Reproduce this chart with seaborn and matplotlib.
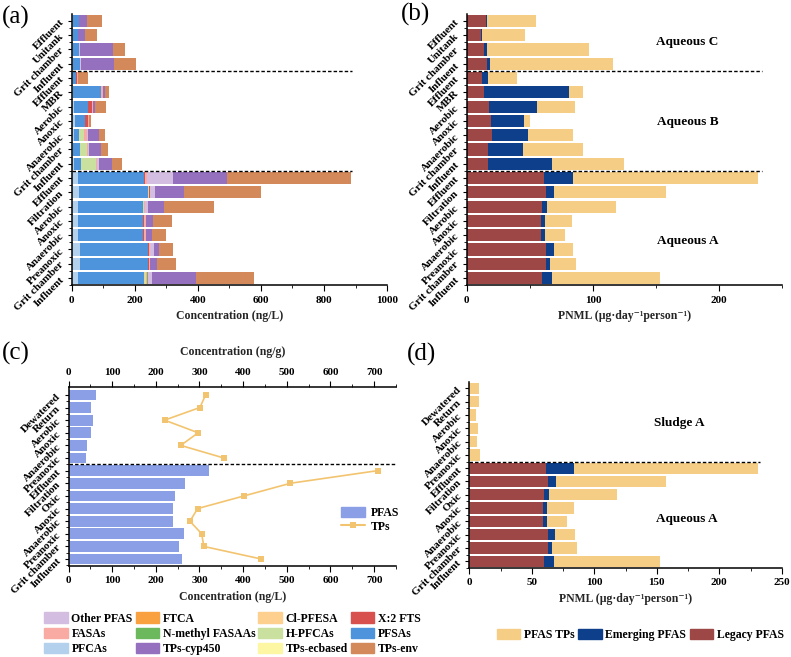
import numpy as np
import seaborn as sns
from matplotlib import pyplot as plt
from matplotlib.lines import Line2D
from matplotlib.patches import Patch
from matplotlib.ticker import MultipleLocator

# row labels, top to bottom
aq_c_rows = ['Effluent', 'Unitank', 'Grit chamber', 'Influent']
aq_b_rows = ['Effluent', 'MBR', 'Aerobic', 'Anoxic', 'Anaerobic', 'Grit chamber', 'Influent']
aq_a_rows = ['Effluent', 'Filtration', 'Aerobic', 'Anoxic', 'Anaerobic', 'Preanoxic', 'Grit chamber', 'Influent']
sludge_rows = ['Dewatered', 'Return', 'Aerobic', 'Anoxic', 'Anaerobic', 'Preanoxic']
aq_a_rows_cd = ['Effluent', 'Filtration', 'Oxic', 'Anoxic', 'Anaerobic', 'Preanoxic', 'Grit chamber', 'Influent']

# (a) concentration by class, ng/L (C: 4 rows, B: 7 rows, A: 8 rows)
pfcas = [4, 4, 4, 5, 4, 5, 8, 10, 8, 6, 8, 22, 24, 22, 22, 22, 27, 27, 22]
pfsas = [20, 15, 20, 21, 10, 90, 44, 33, 17, 21, 21, 208, 219, 205, 206, 206, 216, 215, 208]
h_pfcas = [0, 0, 0, 0, 0, 0, 0, 0, 15, 21, 49, 0, 4, 3, 0, 0, 0, 0, 4]
cl_pfesa = [0, 0, 0, 0, 0, 0, 0, 0, 0, 0, 0, 0, 0, 0, 0, 0, 0, 0, 3]
x2_fts = [0, 0, 0, 0, 3, 0, 13, 8, 0, 0, 0, 4, 3, 0, 3, 3, 4, 4, 0]
fasas = [0, 0, 0, 2, 5, 4, 2, 6, 8, 4, 4, 4, 0, 3, 4, 4, 3, 4, 3]
n_methyl_fasaas = [0, 0, 0, 0, 0, 0, 0, 0, 0, 0, 0, 0, 0, 0, 0, 0, 0, 0, 3]
ftca = [0] * 19
other_pfas = [0, 0, 2, 3, 0, 0, 0, 0, 5, 4, 4, 82, 15, 10, 0, 0, 12, 0, 13]
tps_cyp450 = [24, 24, 106, 103, 0, 7, 9, 0, 34, 36, 42, 172, 93, 50, 24, 19, 16, 20, 139]
tps_ecbased = [0] * 19
tps_env = [49, 39, 38, 70, 29, 12, 32, 6, 20, 25, 32, 392, 243, 157, 59, 44, 44, 60, 183]

# (b) PNML, ug/day/person
legacy_b = [15.4, 11.4, 13.8, 16.4, 11.9, 13.8, 17.7, 19.3, 20.1, 16.7, 16.7,
            61, 63, 59.6, 59, 59, 63, 62.8, 60]
emerging_b = [0.8, 1.1, 2.1, 2.1, 5.3, 67, 38.2, 26, 28.4, 28.3, 50.8,
              23, 6.4, 4, 3, 3, 5.9, 3.2, 7.8]
tps_b = [38.8, 33.5, 81.1, 97.5, 22.3, 11.2, 29.7, 5, 36, 47.5, 57,
         147, 88.2, 54.4, 21.4, 16, 15.6, 20.4, 85]

# (c) PFAS bars and TPs line (sludge ng/g, aqueous ng/L)
pfas_sludge = [62, 51, 55, 51, 43, 40]
tps_sludge = [314, 301, 220, 297, 257, 356]
pfas_aq = [321, 266, 244, 239, 239, 265, 253, 260]
tps_aq = [708, 508, 402, 296, 278, 305, 310, 442]

# (d) PNML: sludge A (TPs only) + aqueous A
legacy_d = [0, 0, 0, 0, 0, 0, 61, 63, 59.6, 59, 59, 63, 62.8, 60]
emerging_d = [0, 0, 0, 0, 0, 0, 23, 6.4, 4, 3, 3, 5.9, 3.2, 7.8]
tps_d = [8, 7.5, 5.3, 6.6, 6, 8.3, 147, 88.2, 54.4, 21.4, 16, 15.6, 20.4, 85]

class_names = ['PFCAs', 'PFSAs', 'H-PFCAs', 'Cl-PFESA', 'X:2 FTS', 'FASAs', 'N-methyl FASAAs',
               'FTCA', 'Other PFAS', 'TPs-cyp450', 'TPs-ecbased', 'TPs-env']
class_colors = ['#b3d1ec', '#4d94dd', '#c9e09e', '#fdd090', '#d9514e', '#f9aaa3', '#6cb85c',
                '#f9a040', '#d3bde0', '#9470bf', '#fdf7a4', '#d3895a']
legend_order = ['Other PFAS', 'FASAs', 'PFCAs', 'FTCA', 'N-methyl FASAAs', 'TPs-cyp450',
                'Cl-PFESA', 'H-PFCAs', 'TPs-ecbased', 'X:2 FTS', 'PFSAs', 'TPs-env']

C_LEGACY, C_EMERGING, C_TPS = '#9e4747', '#0d3f8a', '#f5cd85'
C_BAR, C_LINE = '#8a9fe6', '#f3c46f'


def stacked_bars(ax, segments, colours, width=0.85):
    pos = np.arange(len(segments[0]))
    ends = np.cumsum(np.array(segments, dtype=float), axis=0)
    # draw the longest cumulative bar first, shorter ones on top
    for end, colour in reversed(list(zip(ends, colours))):
        sns.barplot(x=end, y=pos, orient='y', native_scale=True, color=colour, saturation=1,
                    width=width, errorbar=None, linewidth=0, ax=ax)
    return pos


def style_rows(ax, labels, n):
    ax.set_yticks(np.arange(n))
    ax.set_yticklabels(labels, rotation=45, ha='right', va='center', rotation_mode='anchor', fontsize=8)
    ax.set_yticks(np.arange(n) + 0.5, minor=True)
    ax.set_ylim(n - 0.5, -0.5)
    ax.set_ylabel('')
    ax.tick_params(axis='y', which='minor', length=2)
    ax.tick_params(axis='x', labelsize=8)


sns.set_style('ticks')
plt.rcParams['font.family'] = ['Liberation Serif', 'DejaVu Serif']
plt.rcParams['font.weight'] = 'bold'
plt.rcParams['axes.labelweight'] = 'bold'
plt.rcParams['axes.edgecolor'] = 'black'
plt.rcParams['axes.linewidth'] = 1.1
plt.rcParams['text.color'] = 'black'
plt.rcParams['xtick.color'] = 'black'
plt.rcParams['ytick.color'] = 'black'
plt.rcParams['xtick.major.size'] = 4
plt.rcParams['ytick.major.size'] = 3
plt.rcParams['xtick.minor.size'] = 2.5

fig = plt.figure(figsize=(7.91, 6.57), dpi=100)
ax_a = fig.add_axes([0.0904, 0.566, 0.399, 0.413])
ax_b = fig.add_axes([0.590, 0.566, 0.399, 0.413])
ax_c = fig.add_axes([0.0866, 0.1385, 0.414, 0.272])
ax_d = fig.add_axes([0.5933, 0.1355, 0.395, 0.2835])

rows_abc = aq_c_rows + aq_b_rows + aq_a_rows
n_c, n_b = len(aq_c_rows), len(aq_b_rows)
pnml_label = 'PNML (µg·day⁻¹person⁻¹)'

# (a)
class_values = [pfcas, pfsas, h_pfcas, cl_pfesa, x2_fts, fasas, n_methyl_fasaas,
                ftca, other_pfas, tps_cyp450, tps_ecbased, tps_env]
stacked_bars(ax_a, class_values, class_colors)
style_rows(ax_a, rows_abc, len(rows_abc))
ax_a.set_xlim(0, 1000)
ax_a.xaxis.set_major_locator(MultipleLocator(200))
ax_a.xaxis.set_minor_locator(MultipleLocator(100))
ax_a.set_xlabel('Concentration (ng/L)', fontsize=8.5)
for y in [n_c - 0.5, n_c + n_b - 0.5]:
    ax_a.hlines(y, 0, 890, colors='black', linestyles=(0, (2.5, 1.5)), lw=1)
sns.despine(ax=ax_a)

# (b)
stacked_bars(ax_b, [legacy_b, emerging_b, tps_b], [C_LEGACY, C_EMERGING, C_TPS])
style_rows(ax_b, rows_abc, len(rows_abc))
ax_b.set_xlim(0, 250)
ax_b.xaxis.set_major_locator(MultipleLocator(100))
ax_b.xaxis.set_minor_locator(MultipleLocator(50))
ax_b.set_xlabel(pnml_label, fontsize=8.5)
for y in [n_c - 0.5, n_c + n_b - 0.5]:
    ax_b.hlines(y, 0, 234, colors='black', linestyles=(0, (2.5, 1.5)), lw=1)
ax_b.text(175, 1.5, 'Aqueous C', ha='center', va='center', fontsize=9.5)
ax_b.text(175, 7.1, 'Aqueous B', ha='center', va='center', fontsize=9.5)
ax_b.text(175, 15.4, 'Aqueous A', ha='center', va='center', fontsize=9.5)
sns.despine(ax=ax_b)

# (c)
rows_cd = sludge_rows + aq_a_rows_cd
n_s = len(sludge_rows)
pos_s = np.arange(n_s)
pos_aq = np.arange(n_s, len(rows_cd))
sns.barplot(x=pfas_sludge + pfas_aq, y=np.arange(len(rows_cd)), orient='y', native_scale=True,
            color=C_BAR, saturation=1, width=0.85, errorbar=None, linewidth=0, ax=ax_c)
for xs, ys in [(tps_sludge, pos_s), (tps_aq, pos_aq)]:
    sns.lineplot(x=xs, y=ys, orient='y', estimator=None, color=C_LINE, lw=1.2,
                 marker='s', markersize=4, markeredgewidth=0, ax=ax_c)
style_rows(ax_c, rows_cd, len(rows_cd))
ax_c.set_ylim(len(rows_cd) - 0.45, -0.6)
ax_c.set_xlim(0, 750)
ax_c.xaxis.set_major_locator(MultipleLocator(100))
ax_c.xaxis.set_minor_locator(MultipleLocator(50))
ax_c.set_xlabel('Concentration (ng/L)', fontsize=8.5)
ax_c.hlines(n_s - 0.5, 0, 750, colors='black', linestyles=(0, (2.5, 1.5)), lw=1)
top = ax_c.secondary_xaxis('top')
top.xaxis.set_major_locator(MultipleLocator(100))
top.xaxis.set_minor_locator(MultipleLocator(50))
top.tick_params(labelsize=8)
top.set_xlabel('Concentration (ng/g)', fontsize=8.5, labelpad=9)
sns.despine(ax=ax_c, top=True, right=True)
top.spines['top'].set_linewidth(1.1)
ax_c.legend(handles=[Patch(color=C_BAR),
                     Line2D([], [], color=C_LINE, marker='s', markersize=4, markeredgewidth=0)],
            labels=['PFAS', 'TPs'], loc='upper left', bbox_to_anchor=(0.8, 0.39), frameon=False,
            fontsize=8.5, handlelength=2.0, handleheight=0.9, handletextpad=0.5, labelspacing=0.15)

# (d)
stacked_bars(ax_d, [legacy_d, emerging_d, tps_d], [C_LEGACY, C_EMERGING, C_TPS])
style_rows(ax_d, rows_cd, len(rows_cd))
ax_d.set_xlim(0, 250)
ax_d.xaxis.set_major_locator(MultipleLocator(50))
ax_d.xaxis.set_minor_locator(MultipleLocator(25))
ax_d.set_xlabel(pnml_label, fontsize=8.5)
ax_d.hlines(n_s - 0.5, 0, 233, colors='black', linestyles=(0, (2.5, 1.5)), lw=1)
ax_d.text(168, 2.6, 'Sludge A', ha='center', va='center', fontsize=9.5)
ax_d.text(174, 9.85, 'Aqueous A', ha='center', va='center', fontsize=9.5)
sns.despine(ax=ax_d)

# legends at the bottom
colour_of = dict(zip(class_names, class_colors))
fig.legend(handles=[Patch(color=colour_of[n]) for n in legend_order], labels=legend_order,
           ncol=4, loc='upper left', bbox_to_anchor=(0.056, 0.068), frameon=False, fontsize=8.5,
           handlelength=2.0, handleheight=1.0, handletextpad=0.3, columnspacing=0.25,
           labelspacing=0.25, borderpad=0, borderaxespad=0)
fig.legend(handles=[Patch(color=C_TPS), Patch(color=C_EMERGING), Patch(color=C_LEGACY)],
           labels=['PFAS TPs', 'Emerging PFAS', 'Legacy PFAS'], ncol=3, loc='upper left',
           bbox_to_anchor=(0.628, 0.043), frameon=False, fontsize=8.5, handlelength=2.0,
           handleheight=1.0, handletextpad=0.3, columnspacing=0.3, borderpad=0, borderaxespad=0)

for x, y, letter in [(0.003, 0.974, '(a)'), (0.507, 0.978, '(b)'), (0.003, 0.462, '(c)'), (0.514, 0.46, '(d)')]:
    fig.text(x, y, letter, fontsize=18, weight='normal', va='center', ha='left')

fig.savefig('out.png', dpi=100)
